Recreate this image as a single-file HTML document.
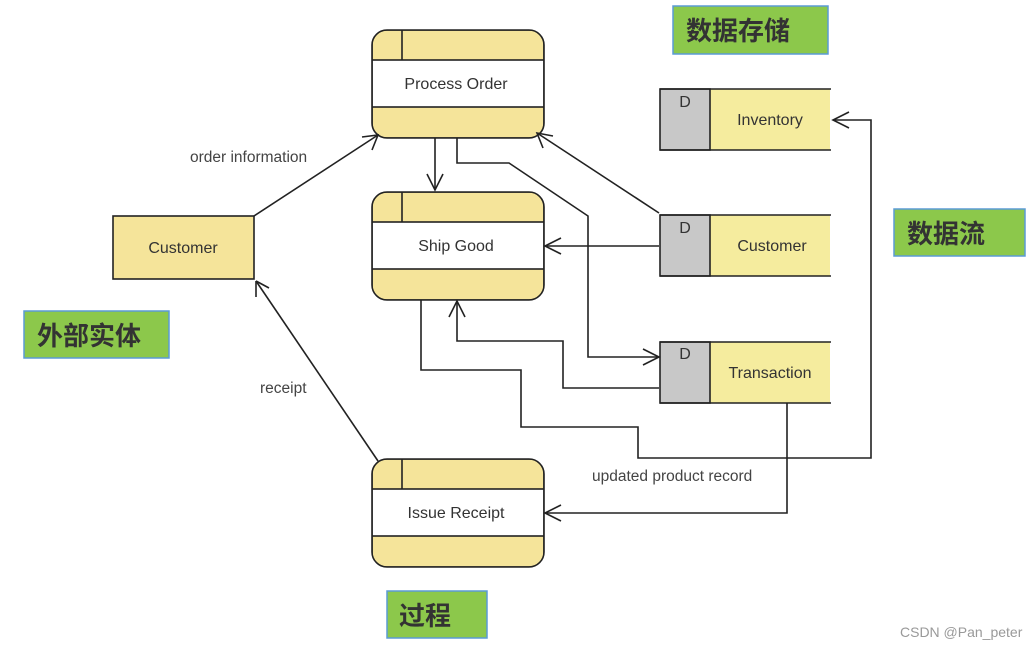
<!DOCTYPE html>
<html><head><meta charset="utf-8"><style>
html,body{margin:0;padding:0;background:#fff;}
svg{display:block;}
text{font-family:"Liberation Sans",sans-serif;}
.cj{font-family:"Liberation Sans","Noto Sans CJK SC",sans-serif;font-size:26px;font-weight:bold;fill:#333;}
</style></head><body>
<svg width="1036" height="649" viewBox="0 0 1036 649" xmlns="http://www.w3.org/2000/svg">
<rect width="1036" height="649" fill="#fff"/>
<defs>
<clipPath id="c1"><rect x="372" y="30" width="172" height="108" rx="15"/></clipPath>
<clipPath id="c2"><rect x="372" y="192" width="172" height="108" rx="15"/></clipPath>
<clipPath id="c3"><rect x="372" y="459" width="172" height="108" rx="15"/></clipPath>
</defs>
<g stroke="#222" stroke-width="1.6">
<g clip-path="url(#c1)"><rect x="372" y="30" width="172" height="108" fill="#f5e49a"/><rect x="372" y="60" width="172" height="47" fill="#fff"/><line x1="402" y1="30" x2="402" y2="60"/></g>
<rect x="372" y="30" width="172" height="108" rx="15" fill="none"/>
<g clip-path="url(#c2)"><rect x="372" y="192" width="172" height="108" fill="#f5e49a"/><rect x="372" y="222" width="172" height="47" fill="#fff"/><line x1="402" y1="192" x2="402" y2="222"/></g>
<rect x="372" y="192" width="172" height="108" rx="15" fill="none"/>
<g clip-path="url(#c3)"><rect x="372" y="459" width="172" height="108" fill="#f5e49a"/><rect x="372" y="489" width="172" height="47" fill="#fff"/><line x1="402" y1="459" x2="402" y2="489"/></g>
<rect x="372" y="459" width="172" height="108" rx="15" fill="none"/>
<rect x="113" y="216" width="141" height="63" fill="#f5e49a"/>
<g>
<rect x="660" y="89" width="170" height="61" fill="#f5ec9e" stroke="none"/><rect x="660" y="89" width="50" height="61" fill="#c8c8c8"/><line x1="660" y1="89" x2="831" y2="89"/><line x1="660" y1="150" x2="831" y2="150"/>
<rect x="660" y="215" width="170" height="61" fill="#f5ec9e" stroke="none"/><rect x="660" y="215" width="50" height="61" fill="#c8c8c8"/><line x1="660" y1="215" x2="831" y2="215"/><line x1="660" y1="276" x2="831" y2="276"/>
<rect x="660" y="342" width="170" height="61" fill="#f5ec9e" stroke="none"/><rect x="660" y="342" width="50" height="61" fill="#c8c8c8"/><line x1="660" y1="342" x2="831" y2="342"/><line x1="660" y1="403" x2="831" y2="403"/>
</g>
<g fill="none">
<path d="M254,216 L378,135"/><path d="M362,137 L378,135 L372,150"/>
<path d="M435,138 V190"/><path d="M427,174 L435,190 L443,174"/>
<path d="M457,138 V163 H509 L588,216 V357 H659"/><path d="M643,349 L659,357 L643,365"/>
<path d="M659,213 L537,133"/><path d="M553,136 L537,133 L543,148"/>
<path d="M659,246 H545"/><path d="M561,238 L545,246 L561,254"/>
<path d="M659,388 H563 V341 H457 V301"/><path d="M449,317 L457,301 L465,317"/>
<path d="M421,300 V370 H521 V427 H638 V458 H871 V120 H833"/><path d="M849,112 L833,120 L849,128"/>
<path d="M787,403 V513 H545"/><path d="M561,505 L545,513 L561,521"/>
<path d="M378,461 L256,281"/><path d="M256,281 L256,297 M256,281 L269,288"/>
</g>
</g>
<g font-size="16" fill="#333" text-anchor="middle">
<text x="456" y="89">Process Order</text>
<text x="456" y="251">Ship Good</text>
<text x="456" y="518">Issue Receipt</text>
<text x="183" y="253">Customer</text>
<text x="770" y="125">Inventory</text>
<text x="772" y="251">Customer</text>
<text x="770" y="378">Transaction</text>
<text x="685" y="107">D</text><text x="685" y="233">D</text><text x="685" y="359">D</text>
</g>
<g font-size="15.5" fill="#444">
<text x="190" y="162">order information</text>
<text x="260" y="393">receipt</text>
<text x="592" y="481">updated product record</text>
</g>
<text x="900" y="637" font-size="14" fill="#999">CSDN @Pan_peter</text>
<g stroke="#5b9bd5" stroke-width="1.5" fill="#8cc84b">
<rect x="673" y="6" width="155" height="48"/>
<rect x="894" y="209" width="131" height="47"/>
<rect x="24" y="311" width="145" height="47"/>
<rect x="387" y="591" width="100" height="47"/>
</g>
<text class="cj" x="686" y="40">数据存储</text>
<text class="cj" x="907" y="243">数据流</text>
<text class="cj" x="37" y="345">外部实体</text>
<text class="cj" x="399" y="625">过程</text>
</svg>
</body></html>
